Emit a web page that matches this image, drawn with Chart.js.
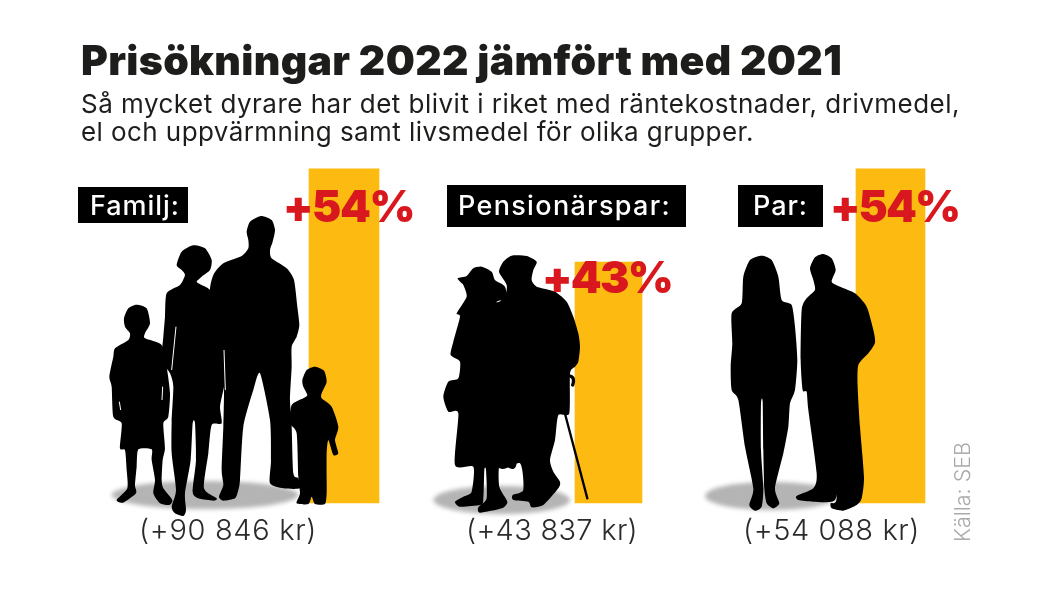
<!DOCTYPE html>
<html lang="sv">
<head>
<meta charset="utf-8">
<title>Prisökningar 2022 jämfört med 2021</title>
<script src="https://cdn.jsdelivr.net/npm/chart.js@4"></script>
<style>
    html, body { margin: 0; background: #fff; }
    #stage { position: relative; width: 1050px; height: 600px; overflow: hidden; font-family: Inter, sans-serif; }
    canvas { position: absolute; left: 0; top: 0; }
    .txt { position: absolute; white-space: nowrap; line-height: 60px; height: 60px; }
    .tag { position: absolute; background: #000; }
    #source { position: absolute; left: 962px; top: 542px; transform-origin: 0 0; transform: rotate(-90deg) translateY(-50%);
              color: #a9a9a9; font-size: 21.5px; font-weight: 300; white-space: nowrap; line-height: 24px; }
</style>
</head>
<body>
<div id="stage">
    <canvas id="chart" width="1050" height="600"></canvas>
    <div id="source">Källa: SEB</div>
</div>
<script>
// ── Data ──────────────────────────────────────────────────────────────────────
const groups = ['Familj:', 'Pensionärspar:', 'Par:'];
const percentIncrease = [54, 43, 54];
const kronorIncrease = ['90 846', '43 837', '54 088'];

const titleText = 'Prisökningar 2022 jämfört med 2021';
const subtitleLines = [
    'Så mycket dyrare har det blivit i riket med räntekostnader, drivmedel,',
    'el och uppvärmning samt livsmedel för olika grupper.',
];

// ── Layout ────────────────────────────────────────────────────────────────────
const barCentres = [344, 608.5, 890.5];
const barWidths = [70, 67, 69];
const BAR_COLOR = '#fdbb11';
const RED = '#d8171e';

// [left, baseline, width] for the texts
const tagBoxes = [[78, 187, 110, 36], [447, 185, 239, 42], [738, 185, 85, 42]];
const tagText = [[90, 215, 90], [458, 215, 213], [753, 215, 55]];
const pctText = [[283, 222, 131], [542, 293, 130], [830, 222, 129]];
const krText = [[139, 540, 178], [466, 540, 172], [743, 540, 177]];

// ── Silhouettes (decoration, traced outlines at 3x, origin = crop corner) ─────
const familyFigures = [
    [535,240,530,215,540,185,573,168,605,180,615,210,608,245,600,270,605,295,650,325,672,360,682,440,688,495,680,530,665,560,665,620,660,720,665,800,670,940,685,955,690,985,640,985,600,970,603,900,600,780,570,640,550,690,520,800,510,960,505,990,495,1015,460,1022,447,1010,460,975,455,930,460,800,462,700,460,600,450,500,420,400,430,345,460,310,515,288,535,265],
    [320,315,335,275,370,256,405,265,425,300,420,330,395,350,380,365,395,375,420,390,445,440,455,520,465,570,470,620,462,680,450,740,455,790,425,795,415,880,402,985,440,1015,430,1022,385,1015,368,995,378,900,375,790,368,790,362,900,345,1000,348,1050,340,1068,315,1060,305,1040,318,990,305,880,305,785,310,680,300,640,275,600,280,530,285,470,290,400,330,375,345,345,335,330],
    [162,475,175,445,200,434,230,445,240,490,225,520,225,535,275,555,290,620,300,700,295,770,280,790,285,865,278,900,275,960,280,985,307,1020,298,1035,270,1030,250,1000,255,960,245,900,245,868,205,868,200,920,195,975,198,1000,160,1028,140,1020,172,985,170,930,165,870,150,865,155,790,130,770,125,680,118,650,130,590,135,565,175,540,180,520,165,500],
    [697,660,710,630,735,620,762,632,770,665,755,700,755,715,785,740,805,800,795,840,805,880,790,885,775,840,770,880,770,960,770,1000,765,1032,735,1032,725,1010,715,1032,680,1030,690,1000,685,950,680,820,660,790,665,735,700,715,712,705,700,680],
];
const pensionerFigures = [
    [207,305,220,275,245,257,290,258,320,275,310,300,305,330,320,350,375,365,410,395,430,440,445,490,450,530,445,575,435,590,420,610,418,730,385,735,375,810,360,870,370,905,390,935,385,955,340,1005,305,1012,295,995,250,990,248,975,280,960,270,880,200,880,200,500,230,360,225,335],
    [83,325,110,318,130,295,155,290,185,305,195,330,225,350,235,400,260,500,260,880,210,880,208,950,232,995,215,1015,150,1028,145,1012,170,985,168,900,163,900,160,990,150,1005,90,1010,75,995,100,980,125,965,130,890,75,885,85,730,55,725,40,680,55,635,85,625,90,575,62,555,70,515,90,440,80,430,110,380,100,345,95,340],
];
const coupleFigures = [
    [125,430,130,350,150,300,185,287,215,300,235,350,245,420,275,435,285,500,292,600,285,690,270,730,265,800,250,880,225,985,238,1030,220,1045,200,1030,193,985,190,870,188,725,183,730,183,870,190,985,185,1040,165,1052,148,1035,160,985,135,860,115,720,95,690,92,620,97,550,95,460],
    [340,360,330,325,345,292,370,282,395,295,407,330,395,365,420,380,465,400,500,440,520,510,525,548,505,580,475,615,473,680,480,800,492,950,485,1015,470,1035,430,1052,395,1045,392,1030,410,1015,410,820,415,930,405,1020,340,1025,295,1020,290,1008,340,985,350,940,325,750,320,695,308,690,302,600,305,450,320,415,345,390],
];
// thin white slits between arms and bodies
const familySlits = [[318,500,305,630], [462,570,466,690], [278,680,276,720], [148,725,152,750]];
const pensionerSlits = [[88,585,80,626], [200,396,212,392]];
const scenes = [
    { ox: 70, oy: 160, figures: familyFigures, slits: familySlits, shadow: [405, 1005, 280, 42] },
    { ox: 430, oy: 170, figures: pensionerFigures, slits: pensionerSlits, shadow: [215, 990, 205, 42] },
    { ox: 700, oy: 160, figures: coupleFigures, slits: [], shadow: [215, 1008, 200, 42] },
];

// Spline through the points, kept tight so that corners stay corners.
function traceOutline(ctx, p) {
    const n = p.length / 2;
    const px = (i) => p[2 * ((i + n) % n)];
    const py = (i) => p[2 * ((i + n) % n) + 1];
    const k = 1 / 9;
    ctx.beginPath();
    ctx.moveTo(px(0), py(0));
    for (let i = 0; i < n; i++) {
        ctx.bezierCurveTo(
            px(i) + (px(i + 1) - px(i - 1)) * k, py(i) + (py(i + 1) - py(i - 1)) * k,
            px(i + 1) - (px(i + 2) - px(i)) * k, py(i + 1) - (py(i + 2) - py(i)) * k,
            px(i + 1), py(i + 1),
        );
    }
    ctx.closePath();
}

const silhouettePlugin = {
    id: 'silhouettes',
    afterDatasetsDraw(chart) {
        const { ctx } = chart;
        scenes.forEach((scene) => {
            ctx.save();
            ctx.translate(scene.ox, scene.oy);
            ctx.scale(1 / 3, 1 / 3);

            // floor shadow
            const [cx, cy, rx, ry] = scene.shadow;
            ctx.save();
            ctx.filter = 'blur(2px)';
            ctx.fillStyle = '#b4b4b4';
            ctx.beginPath();
            ctx.ellipse(cx, cy, rx, ry, 0, 0, Math.PI * 2);
            ctx.fill();
            ctx.restore();

            ctx.fillStyle = '#000';
            scene.figures.forEach((points) => {
                traceOutline(ctx, points);
                ctx.fill();
            });

            ctx.strokeStyle = '#fff';
            ctx.lineWidth = 3;
            scene.slits.forEach(([x1, y1, x2, y2]) => {
                ctx.beginPath();
                ctx.moveTo(x1, y1);
                ctx.lineTo(x2, y2);
                ctx.stroke();
            });

            // the walking stick
            if (scene.figures === pensionerFigures) {
                ctx.strokeStyle = '#000';
                ctx.lineCap = 'round';
                ctx.lineWidth = 7;
                ctx.beginPath();
                ctx.moveTo(406, 735);
                ctx.lineTo(472, 985);
                ctx.stroke();
                ctx.lineWidth = 10;
                ctx.beginPath();
                ctx.moveTo(420, 618);
                ctx.quadraticCurveTo(436, 622, 428, 645);
                ctx.stroke();
            }
            ctx.restore();
        });
    },
};

// ── Chart ─────────────────────────────────────────────────────────────────────
new Chart(document.getElementById('chart'), {
    type: 'bar',
    data: {
        datasets: groups.map((name, i) => ({
            label: name,
            data: [{ x: barCentres[i], y: percentIncrease[i] }],
            backgroundColor: BAR_COLOR,
            borderWidth: 0,
            barThickness: barWidths[i],
            grouped: false,
            base: 14.6,
        })),
    },
    options: {
        responsive: false,
        animation: false,
        layout: { padding: 0 },
        plugins: { legend: { display: false }, tooltip: { enabled: false } },
        scales: {
            x: { type: 'linear', display: false, offset: false, min: 0, max: 1050 },
            // 54 % sits at y = 168.7 and the bars stand on y = 503.3
            y: { display: false, min: 3.14, max: 73.9 },
        },
    },
    plugins: [silhouettePlugin],
});

// ── Texts ─────────────────────────────────────────────────────────────────────
const stage = document.getElementById('stage');
const measure = document.createElement('canvas').getContext('2d');

function place(text, weight, size, color, left, baseline, width) {
    const el = document.createElement('div');
    el.className = 'txt';
    el.textContent = text;
    el.style.cssText = `font-weight:${weight};font-size:${size}px;color:${color};left:${left}px`;
    measure.font = `${weight} ${size}px Inter, sans-serif`;
    const m = measure.measureText(text);
    const asc = m.fontBoundingBoxAscent;
    const desc = m.fontBoundingBoxDescent;
    el.style.top = `${baseline - ((60 - asc - desc) / 2 + asc)}px`;
    // stretch to the measured width of the reference
    el.style.letterSpacing = `${(width - m.width) / text.length}px`;
    stage.appendChild(el);
}

place(titleText, 900, 41, '#1d1d1b', 81, 75, 761);
place(subtitleLines[0], 400, 26, '#1d1d1b', 81, 113, 879);
place(subtitleLines[1], 400, 26, '#1d1d1b', 81, 141, 673);

groups.forEach((name, i) => {
    const [bx, by, bw, bh] = tagBoxes[i];
    const box = document.createElement('div');
    box.className = 'tag';
    box.style.cssText = `left:${bx}px;top:${by}px;width:${bw}px;height:${bh}px`;
    stage.appendChild(box);
    place(name, 500, 27, '#fff', tagText[i][0], tagText[i][1], tagText[i][2]);
    place(`+${percentIncrease[i]}%`, 900, 44, RED, pctText[i][0], pctText[i][1], pctText[i][2]);
    place(`(+${kronorIncrease[i]} kr)`, 300, 29, '#2b2b2b', krText[i][0], krText[i][1], krText[i][2]);
});
</script>
</body>
</html>
